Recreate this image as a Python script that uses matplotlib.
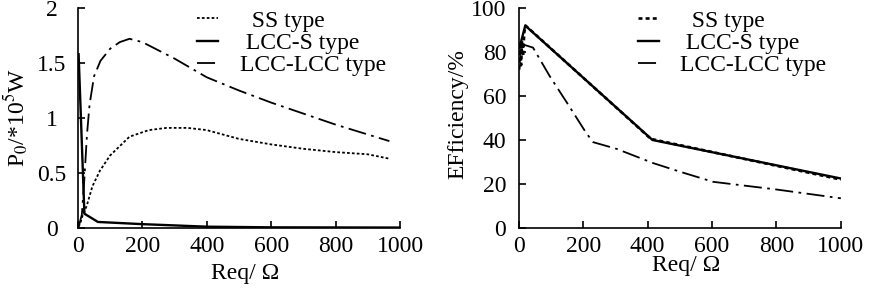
import numpy as np
import matplotlib
matplotlib.use("Agg")
import matplotlib.pyplot as plt

plt.rcParams['font.family'] = ['Liberation Serif', 'DejaVu Serif']
plt.rcParams['mathtext.fontset'] = 'stix'

# power curves, P0 in 1e5 W
req_ss_p = [2, 8, 15, 27, 45, 68, 100, 160, 220, 275, 340, 400, 500, 600, 700, 800, 900, 967]
p_ss = [0.01, 0.05, 0.12, 0.2, 0.38, 0.52, 0.66, 0.83, 0.89, 0.91, 0.91, 0.89, 0.81, 0.76, 0.72, 0.69, 0.67, 0.63]

req_lccs_p = [2, 20, 62, 200, 400, 600, 1000]
p_lccs = [1.58, 0.13, 0.055, 0.035, 0.012, 0.006, 0.004]

req_lcc_p = [3, 12, 20, 28, 36, 50, 70, 100, 130, 160, 200, 300, 400, 500, 600, 700, 800, 900, 967]
p_lcc = [0.02, 0.12, 0.45, 0.85, 1.12, 1.38, 1.52, 1.63, 1.69, 1.72, 1.69, 1.54, 1.37, 1.25, 1.14, 1.04, 0.94, 0.85, 0.79]

# efficiency curves, %
req_ss_e = [1, 4, 7, 10, 13, 17, 21, 410, 1000]
eff_ss = [72, 83, 74, 85, 78, 89, 92, 40.5, 22]

req_lccs_e = [2, 20, 415, 1000]
eff_lccs = [82, 92, 40, 22.5]

req_lcc_e = [0, 44, 96, 158, 210, 231, 303, 417, 500, 603, 800, 1000]
eff_lcc = [84, 82, 69, 55, 43, 39, 36, 29.5, 25.6, 21, 17.5, 13.5]

labels = ['  SS type', ' LCC-S type', 'LCC-LCC type']

fs = 17

fig = plt.figure(figsize=(8.72, 2.91), dpi=100)
ax1 = fig.add_axes([0.0894, 0.2165, 0.3693, 0.756])
ax2 = fig.add_axes([0.595, 0.2165, 0.3693, 0.756])

lw = 1.3
dot = (0, (1.5, 1.2))
dashdot = (0, (10, 3, 1.5, 3))

ax1.plot(req_ss_p, p_ss, color='black', lw=lw, linestyle=dot, label=labels[0])
ax1.plot(req_lccs_p, p_lccs, color='black', lw=lw + 0.4, linestyle='-', label=labels[1])
ax1.plot(req_lcc_p, p_lcc, color='black', lw=lw, linestyle=dashdot, label=labels[2])

ax2.plot(req_ss_e, eff_ss, color='black', lw=lw + 0.6, linestyle=dot, label=labels[0])
ax2.plot(req_lccs_e, eff_lccs, color='black', lw=lw + 0.4, linestyle='-', label=labels[1])
ax2.plot(req_lcc_e, eff_lcc, color='black', lw=lw, linestyle=dashdot, label=labels[2])

for ax in (ax1, ax2):
    ax.set_xlim(0, 1000)
    ax.set_xticks([0, 200, 400, 600, 800, 1000])
    for s in ('top', 'right'):
        ax.spines[s].set_visible(False)
    for s in ('left', 'bottom'):
        ax.spines[s].set_linewidth(1.2)
    ax.tick_params(direction='in', length=5, width=1.2, labelsize=fs)
    ax.tick_params(axis='x', pad=6)
    ax.set_xlabel('Req/ Ω', fontsize=fs)
    ax.legend(loc='upper left', bbox_to_anchor=(0.37, 0.99), frameon=False,
              fontsize=fs, handlelength=0.9, handletextpad=0.9, labelspacing=0.03,
              borderpad=0, borderaxespad=0)

ax1.set_ylim(0, 2)
ax1.set_yticks([0, 0.5, 1, 1.5, 2])
ax1.set_yticklabels(['0', '0.5', '1', '1.5', '2'])
ax1.tick_params(axis='y', pad=19)
for t in ax1.get_yticklabels():
    t.set_horizontalalignment('center')
ax1.set_ylabel('P$_0$/*10$^5$W', fontsize=fs)
ax1.yaxis.set_label_coords(-0.145, 0.5)
ax1.xaxis.set_label_coords(0.52, -0.16)

ax2.set_ylim(0, 100)
ax2.set_yticks([0, 20, 40, 60, 80, 100])
ax2.tick_params(axis='y', pad=9)
ax2.set_ylabel('EFficiency/%', fontsize=fs)
ax2.yaxis.set_label_coords(-0.158, 0.52)
ax2.xaxis.set_label_coords(0.52, -0.125)

fig.savefig('out.png', dpi=100)
